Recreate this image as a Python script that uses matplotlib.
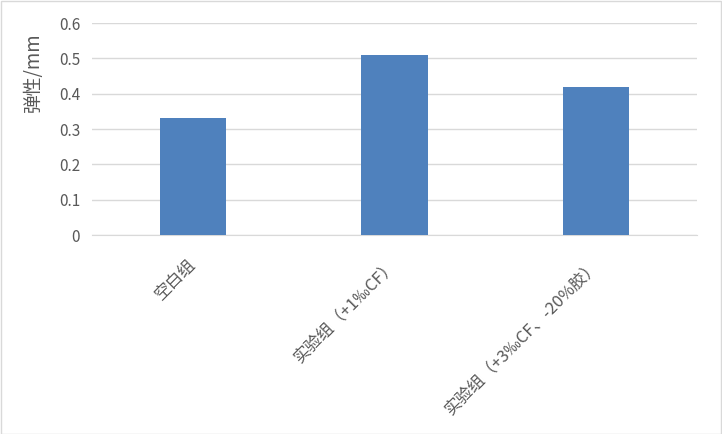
import matplotlib.pyplot as plt
from matplotlib.patches import Rectangle

plt.rcParams['font.family'] = ['Noto Sans CJK SC', 'DejaVu Sans']

groups = ['空白组', '实验组（+1‰CF）', '实验组（+3‰CF、-20%胶）']
elasticity = [0.33, 0.51, 0.42]
yticks = [0, 0.1, 0.2, 0.3, 0.4, 0.5, 0.6]

fig = plt.figure(figsize=(7.22, 4.34), dpi=100)
ax = fig.add_axes([92 / 722, 1 - 235 / 434, 605 / 722, 212 / 434])

x = range(len(groups))
ax.bar(x, elasticity, width=0.33, color='#4f81bd', zorder=3)

ax.set_xlim(-0.5, len(groups) - 0.5)
ax.set_ylim(0, 0.6)
ax.set_yticks(yticks)
ax.set_yticklabels([('%g' % v) for v in yticks])
ax.yaxis.grid(True, color='#d9d9d9', linewidth=1, zorder=0)
for s in ['top', 'right', 'left']:
    ax.spines[s].set_visible(False)
ax.spines['bottom'].set_color('#d9d9d9')
ax.tick_params(axis='y', length=0, pad=8.5, labelsize=11, labelcolor='#595959')
ax.tick_params(axis='x', length=0)
ax.set_xticks(list(x))
ax.set_xticklabels([])

# 斜めのカテゴリラベル
for i, g in enumerate(groups):
    ax.annotate(g, xy=(i, 0), xytext=(0, -27), textcoords='offset pixels',
                rotation=45, ha='right', va='center', rotation_mode='anchor',
                fontsize=12, color='#595959', annotation_clip=False)

ax.set_ylabel('弹性/mm', fontsize=13.5, color='#595959')
ax.yaxis.set_label_coords(-0.08, 0.77)

fig.patches.append(Rectangle((0.5 / 722, 0.5 / 434), 1 - 1.5 / 722, 1 - 1.5 / 434,
                             transform=fig.transFigure, fill=False,
                             edgecolor='#d9d9d9', linewidth=1))

plt.savefig('out.png', dpi=100)
